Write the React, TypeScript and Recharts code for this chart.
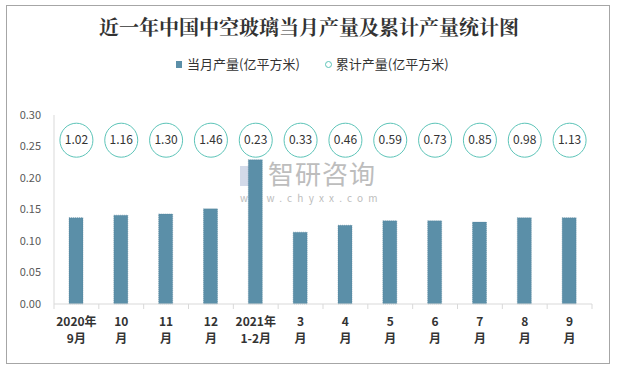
import React from 'react';
import { ComposedChart, Bar, Line, XAxis, YAxis } from 'recharts';

const tickTop = ['2020年', '10', '11', '12', '2021年', '3', '4', '5', '6', '7', '8', '9'];
const tickBottom = ['9月', '月', '月', '月', '1-2月', '月', '月', '月', '月', '月', '月', '月'];
const monthly = [0.137, 0.141, 0.143, 0.151, 0.229, 0.114, 0.125, 0.132, 0.132, 0.130, 0.137, 0.137];
const cumulative = [1.02, 1.16, 1.30, 1.46, 0.23, 0.33, 0.46, 0.59, 0.73, 0.85, 0.98, 1.13];
const yTicks = [0, 0.05, 0.1, 0.15, 0.2, 0.25, 0.3];
const BADGE_ROW = 0.26; // height (axis units) at which the cumulative badges sit

const data = tickTop.map((t, i) => ({
  name: t + tickBottom[i],
  top: t,
  bottom: tickBottom[i],
  monthly: monthly[i],
  cum: cumulative[i],
  badge: BADGE_ROW,
}));

const BAR_COLOR = '#5b8fa8';
const BADGE_COLOR = '#5cc4b8';
const FONT = '"Noto Sans CJK SC", "Noto Sans", sans-serif';

const XTick = (props: any) => {
  const { x, y, payload, index } = props;
  const d = data[index] || data.find((e) => e.name === payload.value);
  const band = 538 / data.length;
  return (
    <g>
      <line x1={x - band / 2} x2={x - band / 2} y1={y - 8} y2={y - 3} stroke="#d9d9d9" />
      {index === data.length - 1 && (
        <line x1={x + band / 2} x2={x + band / 2} y1={y - 8} y2={y - 3} stroke="#d9d9d9" />
      )}
      <text x={x} y={y + 14} textAnchor="middle" fontSize={12} fontWeight="bold" fill="#333" fontFamily={FONT}>
        {d ? d.top : ''}
      </text>
      <text x={x} y={y + 31} textAnchor="middle" fontSize={12} fontWeight="bold" fill="#333" fontFamily={FONT}>
        {d ? d.bottom : ''}
      </text>
    </g>
  );
};

const BadgeDot = (props: any) => {
  const { cx, cy, payload } = props;
  if (cx == null || cy == null) return null;
  return (
    <g>
      <ellipse cx={cx} cy={cy} rx={16.5} ry={17} fill="#fff" stroke={BADGE_COLOR} strokeWidth={1} />
      <text x={cx} y={cy + 4} textAnchor="middle" fontSize={12} fill="#333" fontFamily={FONT}>
        {payload.cum.toFixed(2)}
      </text>
    </g>
  );
};

export default function App() {
  return (
    <div style={{ position: 'absolute', left: 0, top: 0, width: 618, height: 371, background: '#fff' }}>
      <div
        style={{
          position: 'absolute',
          left: 6,
          top: 5,
          width: 604,
          height: 359,
          border: '1px solid #a6a6a6',
          boxSizing: 'border-box',
        }}
      />
      <div
        style={{
          position: 'absolute',
          left: 0,
          top: 14,
          width: 618,
          textAlign: 'center',
          fontSize: 20,
          fontWeight: 'bold',
          fontFamily: '"Noto Serif CJK SC", "Noto Sans CJK SC", serif',
          color: '#333',
          lineHeight: '26px',
        }}
      >
        近一年中国中空玻璃当月产量及累计产量统计图
      </div>
      <div
        style={{
          position: 'absolute',
          left: 176,
          top: 55,
          width: 300,
          display: 'flex',
          alignItems: 'center',
          fontSize: 13,
          fontFamily: FONT,
          color: '#333',
          lineHeight: '18px',
          whiteSpace: 'nowrap',
        }}
      >
        <span style={{ display: 'inline-block', width: 6, height: 7, background: BAR_COLOR, marginRight: 5 }} />
        <span>当月产量(亿平方米)</span>
        <span
          style={{
            display: 'inline-block',
            width: 5,
            height: 5,
            borderRadius: '50%',
            border: `1px solid ${BADGE_COLOR}`,
            marginLeft: 25,
            marginRight: 4,
          }}
        />
        <span>累计产量(亿平方米)</span>
      </div>
      {/* watermark */}
      <div style={{ position: 'absolute', left: 240, top: 164, width: 22, height: 26 }}>
        <div style={{ position: 'absolute', left: 0, top: 2, width: 12, height: 20, background: '#d3dae9' }} />
        <div style={{ position: 'absolute', left: 12, top: 6, width: 9, height: 14, background: '#c5d0e4' }} />
      </div>
      <div
        style={{
          position: 'absolute',
          left: 268,
          top: 158,
          fontSize: 26,
          color: '#bdbdbd',
          fontFamily: FONT,
          letterSpacing: 1,
          lineHeight: '30px',
        }}
      >
        智研咨询
      </div>
      <div
        style={{
          position: 'absolute',
          left: 240,
          top: 191,
          fontSize: 10,
          color: '#bdbdbd',
          fontFamily: FONT,
          letterSpacing: 5.2,
          lineHeight: '14px',
        }}
      >
        www.chyxx.com
      </div>
      <div style={{ position: 'absolute', left: 0, top: 0 }}>
        <ComposedChart
          width={618}
          height={371}
          data={data}
          margin={{ top: 115, right: 26, bottom: 22, left: 14 }}
          barCategoryGap={0}
        >
          <XAxis
            dataKey="name"
            axisLine={{ stroke: '#d9d9d9' }}
            tickLine={false}
            tick={<XTick />}
            interval={0}
            height={45}
            tickSize={0}
            tickMargin={8}
          />
          <YAxis
            domain={[0, 0.3]}
            ticks={yTicks}
            width={40}
            axisLine={{ stroke: '#d9d9d9' }}
            tickLine={false}
            tickSize={0}
            tickMargin={13}
            tickFormatter={(v: number) => v.toFixed(2)}
            tick={{ fontSize: 11, fill: '#595959', fontFamily: FONT }}
          />
          <Bar
            dataKey="monthly"
            fill={BAR_COLOR}
            stroke="#4d7d95"
            strokeWidth={0.5}
            strokeDasharray="1 1"
            barSize={14}
            isAnimationActive={false}
          />
          <Line
            dataKey="badge"
            stroke="none"
            dot={<BadgeDot />}
            activeDot={false}
            isAnimationActive={false}
          />
        </ComposedChart>
      </div>
    </div>
  );
}
